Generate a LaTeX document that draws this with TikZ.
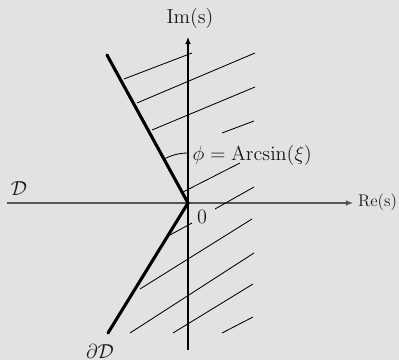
\documentclass[tikz,border=0pt]{standalone}
\usepackage{tikz}
\usetikzlibrary{arrows.meta, positioning, calc}
\usepackage{amsmath}
\definecolor{bgGray}{HTML}{E2E2E2}
\definecolor{axisGray}{HTML}{555555}
\definecolor{textDark}{HTML}{1A1A1A}

\begin{document}
\begin{tikzpicture}[x=0.025cm, y=0.025cm,
    axis/.style={line width=0.8pt, -{Latex[length=5pt, width=4pt]}},
    border/.style={line width=2.2pt, line cap=round},
    hatch/.style={line width=0.6pt},
    lbl/.style={font=\Large\color{textDark}, inner sep=1pt},
  ]
    % background and frame
    \fill[bgGray] (-188,-157) rectangle (211,203);
    \useasboundingbox (-188,-157) rectangle (211,203);

    % axes
    \coordinate (O) at (0,0);
    \coordinate (xl) at (-181,0);
    \coordinate (xr) at (165,0);
    \coordinate (yb) at (0,-147);
    \coordinate (yt) at (0,166);
    \draw[axis, axisGray] (xl) -- (xr);
    \draw[axis] (yb) -- (yt);
    \node[lbl, font=\large\color{textDark}, anchor=east, inner sep=0.5pt] (re) at (210,1) {Re(s)};
    \node[lbl] (im) at (2,185) {Im(s)};
    \node[lbl] (zero) at (14,-14) {0};

    % hatching of the region
    \foreach \xa/\ya/\xb/\yb in {-64/124/4/150, -51/100/67/150, -36/73/67/116,
        34/70/66/82, -5/11/52/40, 27/-6/66/16, -18/-32/4/-20,
        -48/-86/64/-16, -58/-130/66/-50, -15/-130/65/-81, 34/-130/65/-114}
      \draw[hatch] (\xa,\ya) -- (\xb,\yb);

    % boundary of D
    \coordinate (up) at (-81,148);
    \coordinate (lo) at (-80,-130);
    \draw[border] (up) -- (O) -- (lo);

    % angle
    \draw[hatch] (O) ++(90:50) arc[start angle=90, end angle=118.7, radius=50];
    \node[lbl, anchor=west] (phi) at (3,48) {$\phi = \mathrm{Arcsin}(\xi)$};

    \node[lbl] (dom) at (-169,14) {$\mathcal{D}$};
    \node[lbl] (bdom) at (-88,-148) {$\partial\mathcal{D}$};
  \end{tikzpicture}
\end{document}
